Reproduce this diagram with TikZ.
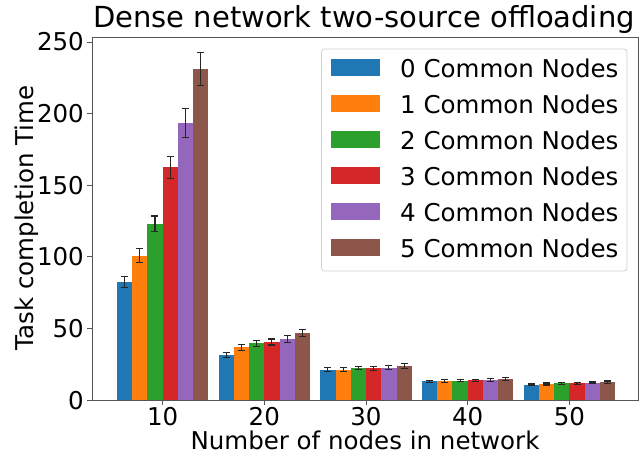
\documentclass[tikz,border=0pt]{standalone}
\usepackage{fontspec}
\setmainfont{DejaVu Sans}
\definecolor{c0}{HTML}{1F77B4}
\definecolor{c1}{HTML}{FF7F0E}
\definecolor{c2}{HTML}{2CA02C}
\definecolor{c3}{HTML}{D62728}
\definecolor{c4}{HTML}{9467BD}
\definecolor{c5}{HTML}{8C564B}
\definecolor{spinec}{HTML}{555555}
\tikzset{
  lbl/.style={inner sep=0pt, font=\fontsize{24.5}{29}\selectfont},
  ttl/.style={inner sep=0pt, font=\fontsize{29}{34}\selectfont},
  errbar/.style={draw=black!85, line width=1.1pt},
  spine/.style={draw=spinec, line width=0.9pt},
  tickmark/.style={draw=spinec, line width=0.9pt},
}
\begin{document}
\begin{tikzpicture}[x=1pt,y=-1pt]
\useasboundingbox (0,0) rectangle (640,454);
\fill[white] (0,0) rectangle (640,454);
% bars
\foreach \g/\i/\v/\e in {
 0/0/82.4/3.9, 0/1/100.8/5.0, 0/2/123.0/5.5, 0/3/162.5/7.7, 0/4/193.5/9.9, 0/5/231.0/11.6,
 1/0/31.4/1.6, 1/1/36.8/2.0, 1/2/39.6/2.1, 1/3/40.5/2.1, 1/4/42.6/2.3, 1/5/46.8/2.4,
 2/0/21.2/1.3, 2/1/21.2/1.3, 2/2/22.3/1.2, 2/3/22.3/1.4, 2/4/22.6/1.4, 2/5/23.7/1.5,
 3/0/13.0/0.7, 3/1/13.3/0.8, 3/2/13.5/0.8, 3/3/13.7/0.8, 3/4/14.0/0.8, 3/5/14.7/0.9,
 4/0/10.7/0.5, 4/1/11.2/0.7, 4/2/11.6/0.7, 4/3/11.6/0.7, 4/4/12.0/0.6, 4/5/12.5/0.8}{
  \pgfmathsetmacro\xl{162.6+101.7*\g+(\i-3)*15.25}
  \pgfmathsetmacro\xr{\xl+15.25}
  \pgfmathsetmacro\xc{\xl+7.625}
  \pgfmathsetmacro\yt{400-1.432*\v}
  \pgfmathsetmacro\ya{\yt-1.432*\e}
  \pgfmathsetmacro\yb{\yt+1.432*\e}
  \fill[c\i] (\xl,400) rectangle (\xr,\yt);
  \draw[errbar] (\xc,\ya) -- (\xc,\yb);
  \draw[errbar] (\xc-3.5,\ya) -- (\xc+3.5,\ya);
  \draw[errbar] (\xc-3.5,\yb) -- (\xc+3.5,\yb);
}
% spines
\draw[spine] (92,400) -- (92,37) -- (638,37) -- (638,400) -- cycle;
% y ticks
\foreach \v in {0,50,100,150,200,250}{
  \pgfmathsetmacro\yy{400-1.432*\v}
  \draw[tickmark] (87,\yy) -- (92,\yy);
  \node[lbl, anchor=base east] (yt\v) at (84,\yy+9) {\v};
}
% x ticks
\foreach \k/\t in {0/10,1/20,2/30,3/40,4/50}{
  \pgfmathsetmacro\xx{162.6+101.7*\k}
  \draw[tickmark] (\xx,400) -- (\xx,405);
  \node[lbl, anchor=base] (xt\t) at (\xx,425) {\t};
}
% labels
\node[ttl, anchor=base] (title) at (364,28) {Dense network two-source offloading};
\node[lbl, anchor=base] (xlabel) at (365,449.5) {Number of nodes in network};
\node[lbl, anchor=base, rotate=90] (ylabel) at (33.5,218) {Task completion Time};
% legend
\draw[draw=black!18, fill=white, rounded corners=3pt, line width=0.8pt] (321.5,49) rectangle (627,271);
\foreach \k in {0,...,5}{
  \pgfmathsetmacro\yy{67.7+36*\k}
  \fill[c\k] (331,\yy-8.5) rectangle (380,\yy+8.5);
  \node[lbl, anchor=base west] (leg\k) at (400,\yy+9.6) {\k\ Common Nodes};
}
\end{tikzpicture}
\end{document}
